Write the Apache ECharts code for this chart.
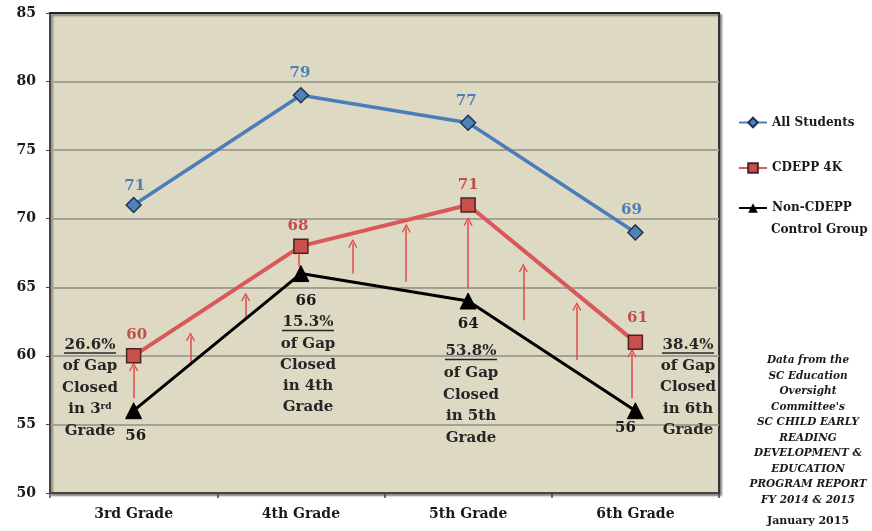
<!DOCTYPE html>
<html><head><meta charset="utf-8">
<script src="https://cdn.jsdelivr.net/npm/echarts@6/dist/echarts.min.js"></script>
<style>html,body{margin:0;padding:0;background:#fff}#c{width:872px;height:531px}</style>
</head><body><div id="c"></div>
<script>
const categories = ['3rd Grade', '4th Grade', '5th Grade', '6th Grade'];
const allStudents = [71, 79, 77, 69];
const cdepp = [60, 68, 71, 61];
const nonCdepp = [56, 66, 64, 56];
const yTicks = [50, 55, 60, 65, 70, 75, 80, 85];
const arrowX = [0, 0.34, 0.67, 0.99, 1.31, 1.63, 2.0, 2.33, 2.65, 2.98];
const arrowFrom = [56.9, 59.3, 62.75, 66.5, 66.0, 65.4, 64.9, 62.6, 59.7, 56.9];
const arrowTo = [59.2, 61.4, 64.3, 67.7, 68.2, 69.3, 69.8, 66.4, 63.6, 60.2];
const gapPct = ['26.6%', '15.3%', '53.8%', '38.4%'];
const gapOrd = ['3', '4', '5', '6'];
const gapSuffix = ['rd', 'th', 'th', 'th'];
const noteLines = ['Data from the', 'SC Education', 'Oversight', "Committee's", 'SC CHILD EARLY', 'READING', 'DEVELOPMENT &', 'EDUCATION', 'PROGRAM REPORT', 'FY 2014 & 2015'];
const noteDate = 'January 2015';

const SERIF = '"DejaVu Serif", "Liberation Serif", serif';
const chart = echarts.init(document.getElementById('c'));

// annotation layout (pixel positions of the text blocks)
const annPos = [
  {x: 90, y: 345, dy: 21.5},
  {x: 308, y: 322.5, dy: 21.2},
  {x: 471, y: 351.5, dy: 21.7},
  {x: 688, y: 345, dy: 21.3}
];
const annFill = '#262626';
const graphic = [];
annPos.forEach((p, i) => {
  const lines = [gapPct[i], 'of Gap', 'Closed', null, 'Grade'];
  lines.forEach((t, k) => {
    const y = p.y + k * p.dy;
    if (t === null) {
      const sup = gapSuffix[i] === 'rd';
      graphic.push({type: 'text', x: p.x, y: y, z: 100, style: {
        text: sup ? '{n|in ' + gapOrd[i] + '}{s|' + gapSuffix[i] + '}' : '{n|in ' + gapOrd[i] + gapSuffix[i] + '}',
        rich: {n: {font: 'bold 15px ' + SERIF, fill: annFill}, s: {font: 'bold 9px ' + SERIF, fill: annFill, verticalAlign: 'top', lineHeight: 15}},
        align: 'center', verticalAlign: 'middle'}});
    } else {
      graphic.push({type: 'text', x: p.x, y: y, z: 100, style: {text: t, font: 'bold 15px ' + SERIF, fill: annFill, align: 'center', verticalAlign: 'middle'}});
    }
  });
  graphic.push({type: 'line', z: 100, shape: {x1: p.x - 26, y1: p.y + 8, x2: p.x + 26, y2: p.y + 8}, style: {stroke: annFill, lineWidth: 1.5}});
});
noteLines.forEach((t, k) => {
  graphic.push({type: 'text', x: 808, y: 360.5 + k * 15.5, style: {text: t, font: 'italic bold 10.5px ' + SERIF, fill: '#1a1a1a', align: 'center', verticalAlign: 'middle'}});
});
graphic.push({type: 'text', x: 808, y: 521.5, style: {text: noteDate, font: 'bold 11px ' + SERIF, fill: '#1a1a1a', align: 'center', verticalAlign: 'middle'}});
graphic.push({type: 'text', x: 771, y: 230, style: {text: 'Control Group', font: 'bold 12px ' + SERIF, fill: '#1a1a1a', align: 'left', verticalAlign: 'middle'}});

const lblFont = {fontFamily: SERIF, fontWeight: 'bold', fontSize: 15};
const blueOff = [[1, -19], [-1, -22], [-2, -22], [-4, -22]];
const redOff = [[3, -21], [-3, -20], [0, -20], [2, -24]];
const blackOff = [[2, 25], [5, 28], [0, 23], [-10, 17]];

function withLabels(vals, offs, color) {
  return vals.map((v, i) => ({value: v, label: {show: true, position: 'inside', offset: offs[i], color: color, ...lblFont}}));
}

const legendBase = {orient: 'vertical', left: 738, padding: 0, itemWidth: 28, itemHeight: 12,
  textStyle: {fontFamily: SERIF, fontWeight: 'bold', fontSize: 12, color: '#1a1a1a'}};

chart.setOption({
  animation: false,
  backgroundColor: '#ffffff',
  grid: {left: 50, right: 153, top: 13, bottom: 38, show: true, backgroundColor: '#ddd9c3',
    borderColor: '#333', borderWidth: 2, shadowColor: 'rgba(0,0,0,0.4)', shadowBlur: 2, shadowOffsetX: 2, shadowOffsetY: 2},
  legend: [
    {...legendBase, top: 116.5, data: ['All Students']},
    {...legendBase, top: 162, data: ['CDEPP 4K']},
    {...legendBase, top: 202, data: ['Non-CDEPP'], formatter: () => 'Non-CDEPP'}
  ],
  xAxis: [
    {type: 'category', data: categories, boundaryGap: true,
      axisLine: {onZero: false, lineStyle: {color: '#444', width: 2}},
      axisTick: {show: true, length: 5, lineStyle: {color: '#444', width: 1.5}},
      axisLabel: {margin: 14, color: '#1a1a1a', fontFamily: SERIF, fontWeight: 'bold', fontSize: 14},
      splitLine: {show: false}},
    {type: 'value', min: -0.5, max: 3.5, show: true, position: 'top',
      axisLine: {show: true, onZero: false, lineStyle: {color: '#222', width: 2}},
      axisTick: {show: false}, axisLabel: {show: false}, splitLine: {show: false}}
  ],
  yAxis: {type: 'value', min: yTicks[0], max: yTicks[yTicks.length - 1], interval: 5,
    axisLine: {show: true, onZero: false, lineStyle: {color: '#444', width: 2}},
    axisTick: {show: true, length: 4, lineStyle: {color: '#444'}},
    axisLabel: {margin: 14, color: '#1a1a1a', fontFamily: SERIF, fontWeight: 'bold', fontSize: 14},
    splitLine: {show: true, lineStyle: {color: '#a3a095', width: 2}}},
  graphic: graphic,
  series: [
    {name: 'All Students', type: 'line', data: withLabels(allStudents, blueOff, '#4a7ebb'),
      symbol: 'diamond', symbolSize: 15, z: 5,
      lineStyle: {color: '#4a7ebb', width: 3.5},
      itemStyle: {color: '#4f81bd', borderColor: '#1e3550', borderWidth: 1.5}},
    {name: 'CDEPP 4K', type: 'line', data: withLabels(cdepp, redOff, '#c0504d'),
      symbol: 'rect', symbolSize: 14, z: 5,
      lineStyle: {color: '#d9585a', width: 4},
      itemStyle: {color: '#c94f4d', borderColor: '#4a2524', borderWidth: 1.5}},
    {name: 'Non-CDEPP', type: 'line', data: withLabels(nonCdepp, blackOff, '#1a1a1a'),
      symbol: 'triangle', symbolSize: 16, z: 4,
      lineStyle: {color: '#000', width: 3},
      itemStyle: {color: '#000', borderColor: '#000'}},
    {name: 'gapArrows', type: 'lines', coordinateSystem: 'cartesian2d', xAxisIndex: 1, yAxisIndex: 0, z: 3,
      symbol: ['none', 'path://M0,0 L6,9 L4.6,9.8 L0,3 L-4.6,9.8 L-6,9 Z'], symbolSize: 9,
      lineStyle: {color: '#e0484a', width: 1.5, opacity: 1},
      data: arrowX.map((x, i) => ({coords: [[x, arrowFrom[i]], [x, arrowTo[i]]]}))}
  ]
});
</script></body></html>
